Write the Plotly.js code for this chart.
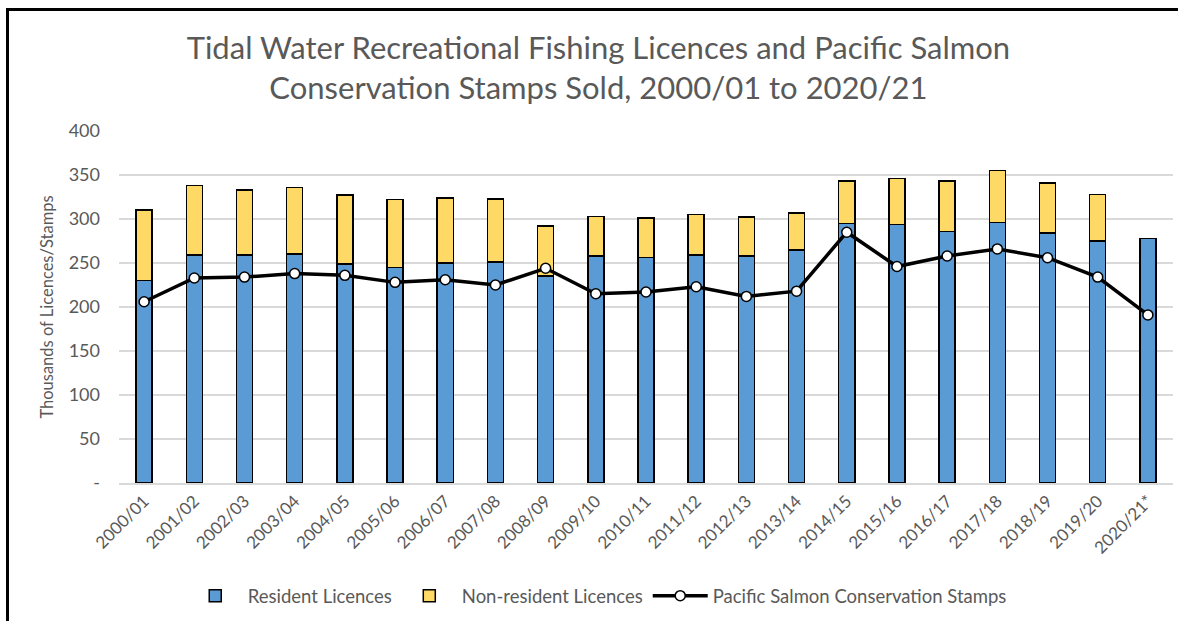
<!DOCTYPE html>
<html>
<head>
<meta charset="utf-8">
<script src="https://cdn.plot.ly/plotly-3.0.1.min.js"></script>
<style>
html,body{margin:0;padding:0;background:#fff;}
#chart{position:absolute;left:0;top:0;width:1178px;height:621px;}
#frame{position:absolute;left:6px;top:8px;width:1200px;height:700px;border-left:3px solid #000;border-top:3px solid #000;pointer-events:none;}
</style>
</head>
<body>
<div id="chart"></div>
<div id="frame"></div>
<script>
const years = ["2000/01","2001/02","2002/03","2003/04","2004/05","2005/06","2006/07","2007/08","2008/09","2009/10","2010/11","2011/12","2012/13","2013/14","2014/15","2015/16","2016/17","2017/18","2018/19","2019/20","2020/21*"];
const residentLicences = [230, 259, 259, 260, 249, 245, 250, 251, 235, 258, 256, 259, 258, 265, 295, 294, 286, 296, 284, 275, 278];
const nonResidentLicences = [80, 79, 74, 76, 78, 77, 74, 72, 57, 45, 45, 46, 44, 42, 48, 52, 57, 59, 57, 53, null];
const salmonStamps = [206, 233, 234, 238, 236, 228, 231, 225, 244, 215, 217, 223, 212, 218, 285, 246, 258, 266, 256, 234, 191];
const yTickVals = [0, 50, 100, 150, 200, 250, 300, 350, 400];
const yTickText = ["-", "50", "100", "150", "200", "250", "300", "350", "400"];

const FONT = "Lato, 'Open Sans', sans-serif";
const GREY = "#595959";

const traces = [
  {
    type: "bar", name: "Resident Licences", x: years, y: residentLicences,
    marker: {color: "#5b9bd5", line: {color: "#000", width: 1.5}},
    width: 0.32, hoverinfo: "y"
  },
  {
    type: "bar", name: "Non-resident Licences", x: years, y: nonResidentLicences,
    marker: {color: "#ffd966", line: {color: "#000", width: 1.5}},
    width: 0.32, hoverinfo: "y"
  },
  {
    type: "scatter", mode: "lines+markers", name: "Pacific Salmon Conservation Stamps",
    x: years, y: salmonStamps,
    line: {color: "#000", width: 3.5},
    marker: {color: "#fff", size: 10, line: {color: "#000", width: 1.5}}
  }
];

const layout = {
  width: 1178, height: 621,
  paper_bgcolor: "#fff", plot_bgcolor: "#fff",
  barmode: "stack",
  margin: {l: 119, r: 5, t: 131, b: 138},
  font: {family: FONT, color: GREY, size: 15},
  title: {
    text: "Tidal Water Recreational Fishing Licences and Pacific Salmon<br>Conservation Stamps Sold, 2000/01 to 2020/21",
    font: {family: FONT, size: 31, color: GREY},
    x: 0.508, xanchor: "center", y: 0.905, yanchor: "middle", yref: "container"
  },
  xaxis: {
    type: "category", range: [-0.5, 20.5], tickangle: -45, showgrid: false,
    showline: true, linecolor: "#d9d9d9", linewidth: 1.5,
    ticks: "", tickfont: {size: 17, color: GREY}, automargin: false
  },
  yaxis: {
    range: [0, 400], tickvals: yTickVals, ticktext: yTickText,
    showgrid: true, gridcolor: "#d9d9d9", gridwidth: 1.5, zeroline: false,
    ticks: "", ticklen: 0, tickfont: {size: 18, color: GREY}, ticklabelstandoff: 18,
    title: {text: "Thousands of Licences/Stamps", font: {size: 16.5, color: GREY}, standoff: 10},
    automargin: false
  },
  legend: {
    orientation: "h", xref: "container", yref: "container",
    x: 0.507, xanchor: "center", y: 0.04, yanchor: "middle",
    font: {size: 18.5, color: GREY}, traceorder: "normal", itemwidth: 55
  },
  showlegend: true
};

Plotly.newPlot("chart", traces, layout, {displayModeBar: false, staticPlot: true});
</script>
</body>
</html>
